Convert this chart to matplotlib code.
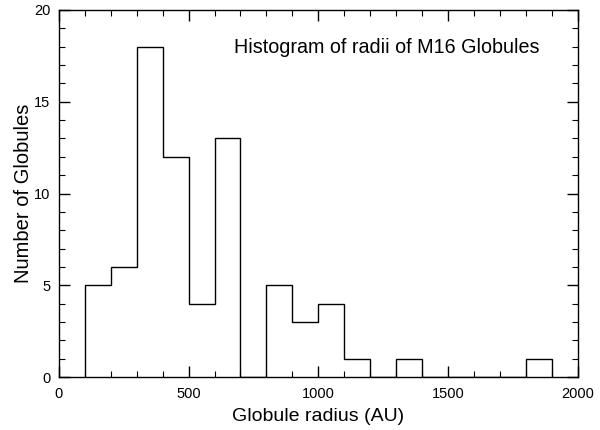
import matplotlib
matplotlib.use('Agg')
import matplotlib.pyplot as plt
import numpy as np
from matplotlib.ticker import MultipleLocator

# bin edges (AU) and counts
bin_edges = np.arange(100, 2000, 100)
counts = [5, 6, 18, 12, 4, 13, 0, 5, 3, 4, 1, 0, 1, 0, 0, 0, 0, 1]

plt.rcParams['font.family'] = ['Liberation Sans', 'DejaVu Sans']

fig = plt.figure(figsize=(6, 4.3), dpi=100)
ax = fig.add_axes([0.098, 0.123, 0.865, 0.854])

ax.stairs(counts, bin_edges, baseline=0, fill=False, color='black', linewidth=1.0)

ax.set_xlim(0, 2000)
ax.set_ylim(0, 20)
ax.xaxis.set_major_locator(MultipleLocator(500))
ax.xaxis.set_minor_locator(MultipleLocator(100))
ax.yaxis.set_major_locator(MultipleLocator(5))
ax.yaxis.set_minor_locator(MultipleLocator(1))
ax.tick_params(which='both', direction='in', top=True, right=True,
               labeltop=False, labelright=False, labelsize=10.5)
ax.tick_params(which='major', length=8, width=1)
ax.tick_params(which='minor', length=4, width=0.8)
ax.tick_params(axis='x', pad=7)
ax.tick_params(axis='y', pad=6)

for s in ax.spines.values():
    s.set_linewidth(1)

ax.set_xlabel('Globule radius (AU)', fontsize=14, labelpad=5)
ax.set_ylabel('Number of Globules', fontsize=14.5, labelpad=1)
ax.text(0.927, 0.897, 'Histogram of radii of M16 Globules', transform=ax.transAxes,
        ha='right', va='center', fontsize=14.2)

fig.savefig('out.png', dpi=100)
